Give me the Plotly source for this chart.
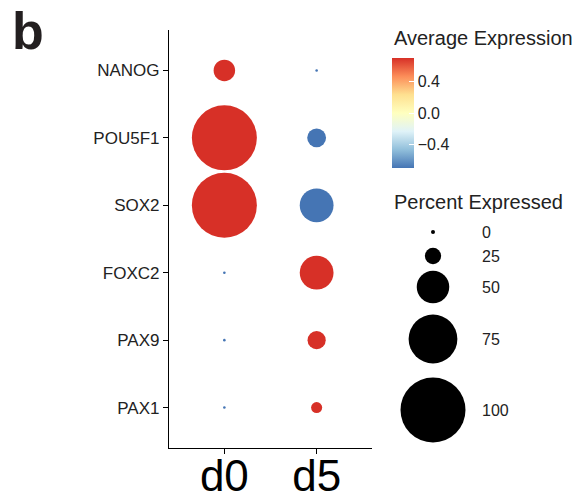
import plotly.graph_objects as go

# ---- data ----
genes = ["NANOG", "POU5F1", "SOX2", "FOXC2", "PAX9", "PAX1"]
groups = ["d0", "d5"]
pct_d0 = [33, 100, 100, 1, 1, 1]
pct_d5 = [2, 29, 52, 52, 28, 17]
avg_d0 = [0.707, 0.707, 0.707, -0.707, -0.707, -0.707]
avg_d5 = [-0.707, -0.707, -0.707, 0.707, 0.707, 0.707]
color_ticks = [-0.4, 0.0, 0.4]
color_tick_labels = ["\u22120.4", "0.0", "0.4"]
size_breaks = [0, 25, 50, 75, 100]
size_labels = ["0", "25", "50", "75", "100"]

# ---- styles ----
W, H = 583, 500
FONT = "Liberation Sans, Arial, sans-serif"
colorscale = [
    [0.0, "#4575B4"], [1/6, "#91BFDB"], [2/6, "#E0F3F8"], [3/6, "#FFFFBF"],
    [4/6, "#FEE090"], [5/6, "#FC8D59"], [1.0, "#D73027"],
]
SIZEREF = 1 / 0.65
CMIN, CMAX = -0.7071, 0.7071

xs, ys, sz, cl = [], [], [], []
for gi, (pcts, avgs) in enumerate([(pct_d0, avg_d0), (pct_d5, avg_d5)]):
    for gene, p, a in zip(genes, pcts, avgs):
        xs.append(groups[gi]); ys.append(gene); sz.append(p); cl.append(a)

fig = go.Figure()
fig.add_trace(go.Scatter(
    x=xs, y=ys, mode="markers",
    marker=dict(size=sz, sizemode="diameter", sizeref=SIZEREF, sizemin=1.3,
                color=cl, colorscale=colorscale, cmin=CMIN, cmax=CMAX,
                line=dict(width=0), opacity=1,
                colorbar=dict(
                    thickness=22, len=110, lenmode="pixels", ypad=0, xpad=0,
                    x=392 / W, xanchor="left", y=1 - 113 / H, yanchor="middle",
                    tickvals=color_ticks, ticktext=color_tick_labels,
                    ticks="inside", tickcolor="white", ticklen=5,
                    outlinewidth=0,
                    tickfont=dict(family=FONT, size=16, color="#222"),
                )),
    showlegend=False, hoverinfo="skip",
))

# size legend (separate pixel-space axes); a 0 key is drawn as the minimum dot
key_centers_px = [232, 256, 287, 339, 410]
fig.add_trace(go.Scatter(
    x=[433] * len(size_breaks), y=key_centers_px, mode="markers",
    marker=dict(size=[max(b, 0.01) for b in size_breaks], sizemode="diameter",
                sizeref=SIZEREF, sizemin=2, color="black", opacity=1,
                line=dict(width=0)),
    xaxis="x2", yaxis="y2", showlegend=False, hoverinfo="skip",
))
for lab, yc in zip(size_labels, key_centers_px):
    fig.add_annotation(x=480, y=yc, xref="x2", yref="y2", text=lab,
                       showarrow=False, xanchor="left", yanchor="middle",
                       font=dict(family=FONT, size=16, color="#222"))

fig.add_annotation(x=392 / W, y=1 - 38 / H, xref="paper", yref="paper",
                   text="Average Expression", showarrow=False,
                   xanchor="left", yanchor="middle",
                   font=dict(family=FONT, size=20, color="#222"))
fig.add_annotation(x=392 / W, y=1 - 202 / H, xref="paper", yref="paper",
                   text="Percent Expressed", showarrow=False,
                   xanchor="left", yanchor="middle",
                   font=dict(family=FONT, size=20, color="#222"))
fig.add_annotation(x=28 / W, y=1 - 31 / H, xref="paper", yref="paper",
                   text="<b>b</b>", showarrow=False,
                   xanchor="center", yanchor="middle",
                   font=dict(family=FONT, size=52, color="#231F20"))

fig.update_layout(
    width=W, height=H, margin=dict(l=0, r=0, t=0, b=0, autoexpand=False),
    plot_bgcolor="rgba(0,0,0,0)", paper_bgcolor="white",
    xaxis=dict(domain=[169 / W, 372 / W], type="category",
               categoryorder="array", categoryarray=groups,
               range=[-0.6, 1.6], showgrid=False, zeroline=False,
               automargin=False,
               showline=True, linecolor="black", linewidth=1.2,
               ticks="outside", ticklen=5, tickcolor="black", tickwidth=1.2,
               ticklabelstandoff=-16,
               tickfont=dict(family=FONT, size=44, color="black")),
    yaxis=dict(domain=[1 - 448 / H, 1 - 30 / H], type="category",
               categoryorder="array", categoryarray=genes,
               range=[5.6, -0.6], showgrid=False, zeroline=False,
               automargin=False,
               showline=True, linecolor="black", linewidth=1.2,
               ticks="outside", ticklen=5, tickcolor="black", tickwidth=1.2,
               tickfont=dict(family=FONT, size=17, color="#222")),
    xaxis2=dict(domain=[0, 1], range=[0, W], visible=False, anchor="y2",
                fixedrange=True, automargin=False),
    yaxis2=dict(domain=[0, 1], range=[H, 0], visible=False, anchor="x2",
                fixedrange=True, automargin=False),
)

fig.write_html("out.html")
